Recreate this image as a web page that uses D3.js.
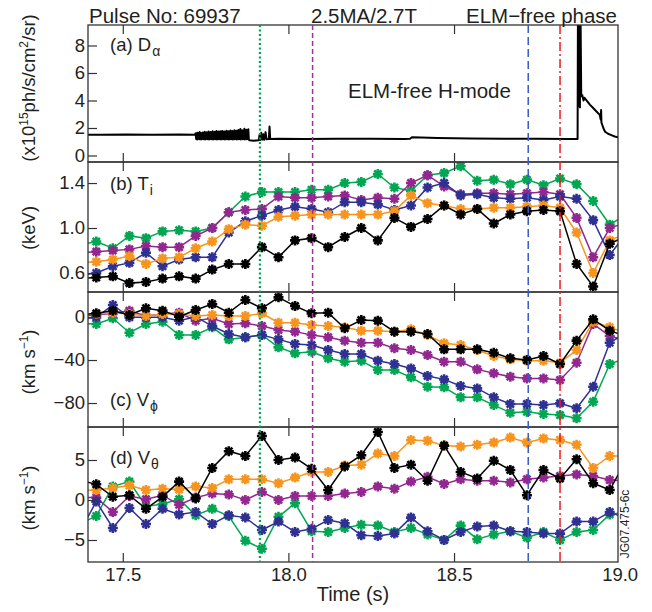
<!DOCTYPE html>
<html lang="en">
<head>
<meta charset="UTF-8">
<title>Pulse 69937 ELM-free phase</title>
<style>
  body { margin: 0; background: #fff; }
  text { font-family: "Liberation Sans", Arial, sans-serif; fill: #231f20; }
  .tick line { stroke: #333; stroke-width: 1.2px; }
  .tick text { font-size: 18.5px; fill: #231f20; }
</style>
</head>
<body>
<script src="https://cdn.jsdelivr.net/npm/d3@7"></script>
<script>
// sample times of the profile points (s); first and last sit just outside the frame
const times = [17.37, 17.42, 17.47, 17.52, 17.57, 17.62, 17.67, 17.72, 17.77, 17.82, 17.87,
  17.92, 17.97, 18.02, 18.07, 18.12, 18.17, 18.22, 18.27, 18.32, 18.37, 18.42, 18.47,
  18.52, 18.57, 18.62, 18.67, 18.72, 18.77, 18.82, 18.87, 18.92, 18.97, 19.02];

// series order: green, purple, blue, orange, black
const seriesNames = ["green", "purple", "blue", "orange", "black"];
const seriesColors = ["#00a651", "#92278f", "#2e3192", "#f7941d", "#000000"];

// (b) Ti (keV)
const tiGreen  = [0.85, 0.88, 0.82, 0.93, 0.91, 0.97, 0.98, 0.97, 1.00, 1.14, 1.28, 1.32, 1.32, 1.32, 1.34, 1.34, 1.40, 1.41, 1.48, 1.36, 1.33, 1.47, 1.49, 1.55, 1.42, 1.43, 1.39, 1.43, 1.38, 1.44, 1.39, 1.24, 1.03, 1.12];
const tiPurple = [0.78, 0.79, 0.80, 0.81, 0.84, 0.83, 0.83, 0.93, 1.00, 1.14, 1.16, 1.17, 1.28, 1.27, 1.27, 1.28, 1.29, 1.25, 1.27, 1.26, 1.40, 1.47, 1.37, 1.30, 1.31, 1.31, 1.30, 1.31, 1.32, 1.30, 1.09, 0.74, 1.00, 1.05];
const tiBlue   = [0.58, 0.60, 0.66, 0.69, 0.78, 0.66, 0.72, 0.74, 0.74, 0.96, 1.06, 1.11, 1.16, 1.19, 1.17, 1.14, 1.23, 1.23, 1.21, 1.16, 1.20, 1.36, 1.40, 1.29, 1.30, 1.27, 1.26, 1.27, 1.25, 1.28, 1.26, 1.07, 0.76, 0.95];
const tiOrange = [0.69, 0.70, 0.72, 0.75, 0.68, 0.73, 0.74, 0.82, 0.88, 0.99, 1.03, 1.02, 1.10, 1.11, 1.12, 1.12, 1.12, 1.12, 1.12, 1.15, 1.29, 1.22, 1.20, 1.17, 1.17, 1.18, 1.18, 1.19, 1.20, 1.18, 0.96, 0.60, 0.89, 0.95];
const tiBlack  = [0.55, 0.56, 0.57, 0.51, 0.52, 0.55, 0.57, 0.55, 0.63, 0.68, 0.68, 0.83, 0.74, 0.89, 0.91, 0.83, 0.92, 1.00, 0.89, 1.09, 1.01, 1.08, 1.20, 1.12, 1.17, 1.04, 1.12, 1.15, 1.16, 1.15, 0.68, 0.48, 0.86, 0.93];

// (c) V_phi (km/s)
const vpGreen  = [-6, -6.5, -1.2, -14.6, -6.5, -4.4, -16.7, -16.7, -9.6, -20.8, -18.9, -16.7, -28.2, -33.8, -32.3, -38.4, -41.6, -40.6, -49.3, -49.3, -56.1, -64.8, -65.4, -74.7, -74.7, -81.9, -89, -88.1, -90.2, -91.2, -94.2, -78.8, -43.7, -38];
const vpPurple = [1, 1.9, 3.4, 5.9, 0.9, 2.8, 4.0, -3.4, -1.2, -6.5, -5.9, -8.4, -12.1, -13.6, -16.7, -18.9, -22, -23.9, -23.9, -29.1, -30.7, -35.3, -41.6, -41.6, -48.7, -52.4, -55.5, -57.1, -57.1, -58.6, -42.5, -6.5, -17.7, -22];
const vpBlue   = [-2, -0.3, 11.2, -0.3, -0.3, -0.3, -3.4, 0.3, -8.4, -15.8, -18.9, -16.7, -20.8, -25.1, -26, -30.7, -34.4, -34.4, -40.6, -43.7, -47.8, -54.9, -58, -64.2, -66.4, -74.7, -80.9, -80.9, -81.9, -80.3, -84.9, -64.8, -23.9, -15];
const vpOrange = [3, 2.8, 4.0, 2.8, 0.9, 2.8, 2.8, 0.9, 1.9, 0.9, 0.9, 3.4, -5.3, -5.3, -7.4, -8.4, -9.6, -12.7, -12.7, -13.6, -11.5, -16.7, -24.5, -26, -30.7, -36.3, -39.4, -40.6, -40.6, -42.5, -30.7, -4.4, -9.6, -15];
const vpBlack  = [2, 3.4, 5.9, 1.9, 8.1, 5.9, 0.3, 6.5, 12.1, 4.0, 15.8, 8.1, 18.3, 10.2, 3.4, 4.0, -10.5, -2.8, -3.4, -13.6, -13.6, -15.8, -30.1, -30.1, -30.1, -33.2, -38.4, -40, -36.3, -43.7, -22, -2.2, -12.7, -18];

// (d) V_theta (km/s)
const vtGreen  = [-3, -2.0, 1.7, 2.3, -0.8, -0.5, 0.1, -1.9, -1.1, -2.0, -5.1, -6.1, -2.1, -0.4, -3.9, -4.0, -3.5, -3.1, -3.2, -4.0, -3.5, -4.3, -5.0, -3.2, -4.9, -4.3, -3.9, -4.7, -4.0, -5.0, -4.0, -3.75, -1.8, -1.5];
const vtPurple = [0.3, 0.3, -1.5, 0.5, 0.1, 0.6, -0.6, 0.3, 0.8, 0.7, 0, 1.0, 0, 0.5, 0.5, 0.5, 0.8, 1.0, 1.7, 1.4, 2.3, 2.9, 2.0, 2.6, 2.4, 2.4, 2.2, 2.6, 2.8, 3.0, 3.2, 3.0, 2.5, 2.4];
const vtBlue   = [-4, -0.2, -3.5, -1.0, -3.0, -1.1, -1.8, -1.5, -3.0, -1.9, -2.2, -3.75, -2.7, -4.0, -3.6, -2.5, -2.9, -4.4, -4.5, -4.2, -2.2, -3.9, -5.0, -4.0, -3.3, -3.2, -3.9, -4.0, -4.2, -4.2, -2.7, -2.7, -1.5, -2.3];
const vtOrange = [1.2, 1.25, 1.5, 1.8, 1.25, 1.4, 1.3, 1.7, 1.5, 2.6, 2.6, 2.6, 2.1, 2.8, 3.5, 3.5, 4.3, 4.4, 5.8, 5.5, 7.5, 7.4, 6.8, 6.7, 6.9, 7.2, 7.8, 7.2, 7.7, 7.5, 6.9, 4.0, 5.5, 5.5];
const vtBlack  = [2.5, 1.96, 0.4, 0.6, -1.1, 0.4, 2.3, 0.2, 4.0, 6.1, 5.5, 8.0, 5.0, 5.3, 3.9, 1.25, 4.2, 5.6, 8.5, 4.0, 4.4, 2.4, 6.8, 3.5, 2.7, 4.9, 3.75, 0.6, 3.75, 2.7, 5.1, 2.1, 1.25, 5];

// (a) D-alpha trace: [time, 1e15 ph/s/cm2/sr]
const dalpha = [
  [17.37, 1.52], [17.44, 1.50], [17.51, 1.53], [17.59, 1.51], [17.67, 1.52], [17.717, 1.50],
  [17.720, 1.62], [17.7215, 1.20], [17.723, 1.58], [17.7245, 1.17], [17.726, 1.66], [17.7275, 1.21],
  [17.729, 1.60], [17.7305, 1.18], [17.732, 1.70], [17.7335, 1.20], [17.735, 1.63], [17.7365, 1.17],
  [17.738, 1.59], [17.7395, 1.22], [17.741, 1.68], [17.7425, 1.18], [17.744, 1.64], [17.7455, 1.20],
  [17.747, 1.72], [17.7485, 1.17], [17.750, 1.61], [17.7515, 1.21], [17.753, 1.69], [17.7545, 1.18],
  [17.756, 1.66], [17.7575, 1.20], [17.759, 1.74], [17.7605, 1.17], [17.762, 1.63], [17.7635, 1.22],
  [17.765, 1.71], [17.7665, 1.18], [17.768, 1.67], [17.7695, 1.20], [17.771, 1.76], [17.7725, 1.17],
  [17.774, 1.65], [17.7755, 1.21], [17.777, 1.73], [17.7785, 1.18], [17.780, 1.70], [17.7815, 1.20],
  [17.783, 1.78], [17.7845, 1.17], [17.786, 1.68], [17.7875, 1.22], [17.789, 1.74], [17.7905, 1.18],
  [17.792, 1.69], [17.7935, 1.20], [17.795, 1.77], [17.7965, 1.17], [17.798, 1.72], [17.7995, 1.21],
  [17.801, 1.79], [17.8025, 1.18], [17.804, 1.70], [17.8055, 1.20], [17.807, 1.75], [17.8085, 1.17],
  [17.810, 1.71], [17.8115, 1.22], [17.813, 1.80], [17.8145, 1.18], [17.816, 1.73], [17.8175, 1.20],
  [17.819, 1.77], [17.8205, 1.17], [17.822, 1.72], [17.8235, 1.21], [17.825, 1.82], [17.8265, 1.18],
  [17.828, 1.74], [17.8295, 1.20], [17.831, 1.79], [17.8325, 1.17], [17.834, 1.73], [17.8355, 1.22],
  [17.837, 1.84], [17.8385, 1.18], [17.840, 1.76], [17.8415, 1.20], [17.843, 1.80], [17.8445, 1.17],
  [17.846, 1.75], [17.8475, 1.21], [17.849, 1.86], [17.8505, 1.18], [17.852, 1.77], [17.8535, 1.20],
  [17.855, 1.92], [17.8565, 1.17], [17.858, 1.78], [17.8595, 1.22], [17.861, 1.84], [17.8625, 1.18],
  [17.864, 1.79], [17.8655, 1.20], [17.867, 1.95], [17.8685, 1.17], [17.870, 1.80], [17.8715, 1.21],
  [17.873, 1.88], [17.8745, 1.18], [17.876, 1.82], [17.8775, 1.20], [17.879, 1.90], [17.8805, 1.17],
  [17.882, 1.10], [17.895, 1.08], [17.910, 1.10],
  [17.913, 1.50], [17.915, 1.12], [17.918, 1.65], [17.921, 1.15], [17.924, 1.55], [17.927, 1.14],
  [17.931, 1.70], [17.934, 1.18], [17.941, 1.20], [17.943, 2.10], [17.945, 1.20],
  [17.97, 1.22], [18.05, 1.20], [18.15, 1.22], [18.25, 1.21], [18.35, 1.20], [18.367, 1.22],
  [18.373, 1.33], [18.40, 1.30], [18.45, 1.27], [18.55, 1.24], [18.65, 1.22], [18.75, 1.21],
  [18.85, 1.20], [18.873, 1.20],
  [18.874, 10], [18.876, 3.6], [18.878, 10], [18.880, 3.5], [18.882, 10], [18.884, 4.3],
  [18.887, 4.4], [18.891, 4.0], [18.894, 4.2], [18.900, 4.0], [18.910, 3.7], [18.920, 3.45],
  [18.930, 3.2], [18.940, 2.95], [18.943, 2.6], [18.944, 3.3], [18.945, 2.4], [18.951, 1.98],
  [18.956, 1.73], [18.965, 1.58], [18.975, 1.48], [18.985, 1.38], [18.995, 1.32], [19.01, 1.3]
];

// vertical event markers (s)
const eventTimes = [17.914, 18.073, 18.724, 18.820];
const eventColors = ["#00a651", "#a1309a", "#3a5bbf", "#ed1c24"];
const eventDash = ["2,2.5", "5,3", "8,4", "9,3,2,3"];

const xTicks = [17.5, 18.0, 18.5];
const xTickLabels = [17.5, 18.0, 18.5, 19.0];

// ---- layout ----
const left = 88, right = 618;
const x = d3.scaleLinear().domain([17.395, 18.995]).range([left, right]);

const panels = [
  {id: "a", y0: 25,  y1: 162, domain: [-0.473, 9.49], ticks: [0, 2, 4, 6, 8], fmt: d3.format("d")},
  {id: "b", y0: 162, y1: 292, domain: [0.431, 1.587], ticks: [0.6, 1.0, 1.4], fmt: d3.format(".1f")},
  {id: "c", y0: 292, y1: 427, domain: [-102.3, 23.26], ticks: [-80, -40, 0], fmt: d3.format("d")},
  {id: "d", y0: 427, y1: 562, domain: [-7.75, 9.125], ticks: [-5, 0, 5], fmt: d3.format("d")}
];
panels.forEach(p => p.y = d3.scaleLinear().domain(p.domain).range([p.y1, p.y0]));

const svg = d3.select("body").append("svg")
  .attr("width", 652)
  .attr("height", 612);

const defs = svg.append("defs");
panels.forEach(p => {
  defs.append("clipPath").attr("id", "clip-" + p.id)
    .append("rect")
    .attr("x", left).attr("y", p.y0)
    .attr("width", right - left).attr("height", p.y1 - p.y0);
});

// star marker: plus + cross
const star = "M-5,0H5M0,-5V5M-3.6,-3.6L3.6,3.6M-3.6,3.6L3.6,-3.6";

function drawSeries(p, list) {
  const g = svg.append("g").attr("clip-path", "url(#clip-" + p.id + ")");
  const line = d3.line().x((d, i) => x(times[i])).y(d => p.y(d));
  list.forEach((vals, si) => {
    g.append("path")
      .attr("d", line(vals))
      .attr("fill", "none")
      .attr("stroke", seriesColors[si])
      .attr("stroke-width", 1.5);
    g.selectAll(null)
      .data(vals)
      .enter().append("path")
      .attr("transform", (d, i) => `translate(${x(times[i])},${p.y(d)})`)
      .attr("d", star)
      .attr("stroke", seriesColors[si])
      .attr("stroke-width", 2.6)
      .attr("fill", "none");
  });
}

// panel (a) trace
const pa = panels[0];
svg.append("g").attr("clip-path", "url(#clip-a)")
  .append("path")
  .attr("d", d3.line().x(d => x(d[0])).y(d => pa.y(d[1]))(dalpha))
  .attr("fill", "none")
  .attr("stroke", "#000")
  .attr("stroke-width", 2)
  .attr("stroke-linejoin", "round");

drawSeries(panels[1], [tiGreen, tiPurple, tiBlue, tiOrange, tiBlack]);
drawSeries(panels[2], [vpGreen, vpPurple, vpBlue, vpOrange, vpBlack]);
drawSeries(panels[3], [vtGreen, vtPurple, vtBlue, vtOrange, vtBlack]);

// axes and frames
panels.forEach((p, pi) => {
  svg.append("g")
    .attr("transform", `translate(${left},0)`)
    .call(d3.axisLeft(p.y).tickValues(p.ticks).tickFormat(p.fmt).tickSize(-9).tickSizeOuter(0).tickPadding(3))
    .call(g => g.select(".domain").remove());
  svg.append("g")
    .attr("transform", `translate(0,${p.y1})`)
    .call(d3.axisBottom(x).tickValues(xTicks).tickFormat("").tickSize(-9).tickSizeOuter(0))
    .call(g => g.select(".domain").remove());
  svg.append("g")
    .attr("transform", `translate(0,${p.y0})`)
    .call(d3.axisTop(x).tickValues(xTicks).tickFormat("").tickSize(-9).tickSizeOuter(0))
    .call(g => g.select(".domain").remove());
  svg.append("rect")
    .attr("x", left).attr("y", p.y0)
    .attr("width", right - left).attr("height", p.y1 - p.y0)
    .attr("fill", "none")
    .attr("stroke", "#333")
    .attr("stroke-width", 1.3);
});

// time labels under the last panel
svg.append("g")
  .attr("transform", `translate(0,${panels[3].y1})`)
  .call(d3.axisBottom(x).tickValues(xTickLabels).tickFormat(d3.format(".1f")).tickSize(0).tickPadding(6))
  .call(g => g.select(".domain").remove());

// event lines across all panels
eventTimes.forEach((t, i) => {
  svg.append("line")
    .attr("x1", x(t)).attr("x2", x(t))
    .attr("y1", panels[0].y0).attr("y2", panels[3].y1)
    .attr("stroke", eventColors[i])
    .attr("stroke-width", i === 0 ? 2.2 : 1.5)
    .attr("stroke-dasharray", eventDash[i]);
});

// panel labels
const panelLabels = [
  {txt: "(a) D", sub: "\u03b1", y: 51},
  {txt: "(b) T", sub: "i", y: 190},
  {txt: "(c) V", sub: "\u03d5", y: 406},
  {txt: "(d) V", sub: "\u03b8", y: 464}
];
panelLabels.forEach(l => {
  const t = svg.append("text").attr("x", 110).attr("y", l.y).attr("font-size", 18.5);
  t.append("tspan").text(l.txt);
  t.append("tspan").attr("dy", 5).attr("dx", 1).attr("font-size", 14).text(l.sub);
});

svg.append("text").attr("x", 348).attr("y", 98).attr("font-size", 20.5).text("ELM-free H-mode");

// header
svg.append("text").attr("x", 89).attr("y", 23).attr("font-size", 20.5).text("Pulse No: 69937");
svg.append("text").attr("x", 311).attr("y", 23).attr("font-size", 20.5).text("2.5MA/2.7T");
svg.append("text").attr("x", 617).attr("y", 23).attr("font-size", 20.5).attr("text-anchor", "end").text("ELM\u2212free phase");

// y axis titles
function yTitle(cy, parts) {
  const t = svg.append("text")
    .attr("transform", `translate(35,${cy}) rotate(-90)`)
    .attr("text-anchor", "middle")
    .attr("font-size", 18.5);
  parts.forEach(pt => {
    const s = t.append("tspan").text(pt[0]);
    if (pt[1] === "sup") s.attr("font-size", 12).attr("dy", -7);
    if (pt[1] === "back") s.attr("dy", 7);
  });
}
yTitle(88, [["(x10"], ["15", "sup"], ["ph/s/cm", "back"], ["2", "sup"], ["/sr)", "back"]]);
yTitle(228, [["(keV)"]]);
yTitle(362, [["(km s"], ["\u22121", "sup"], [")", "back"]]);
yTitle(498, [["(km s"], ["\u22121", "sup"], [")", "back"]]);

svg.append("text").attr("x", 353).attr("y", 601).attr("font-size", 20)
  .attr("text-anchor", "middle").text("Time (s)");

svg.append("text")
  .attr("transform", "translate(629,524) rotate(-90)")
  .attr("text-anchor", "middle")
  .attr("font-size", 12)
  .text("JG07.475-6c");
</script>
</body>
</html>
